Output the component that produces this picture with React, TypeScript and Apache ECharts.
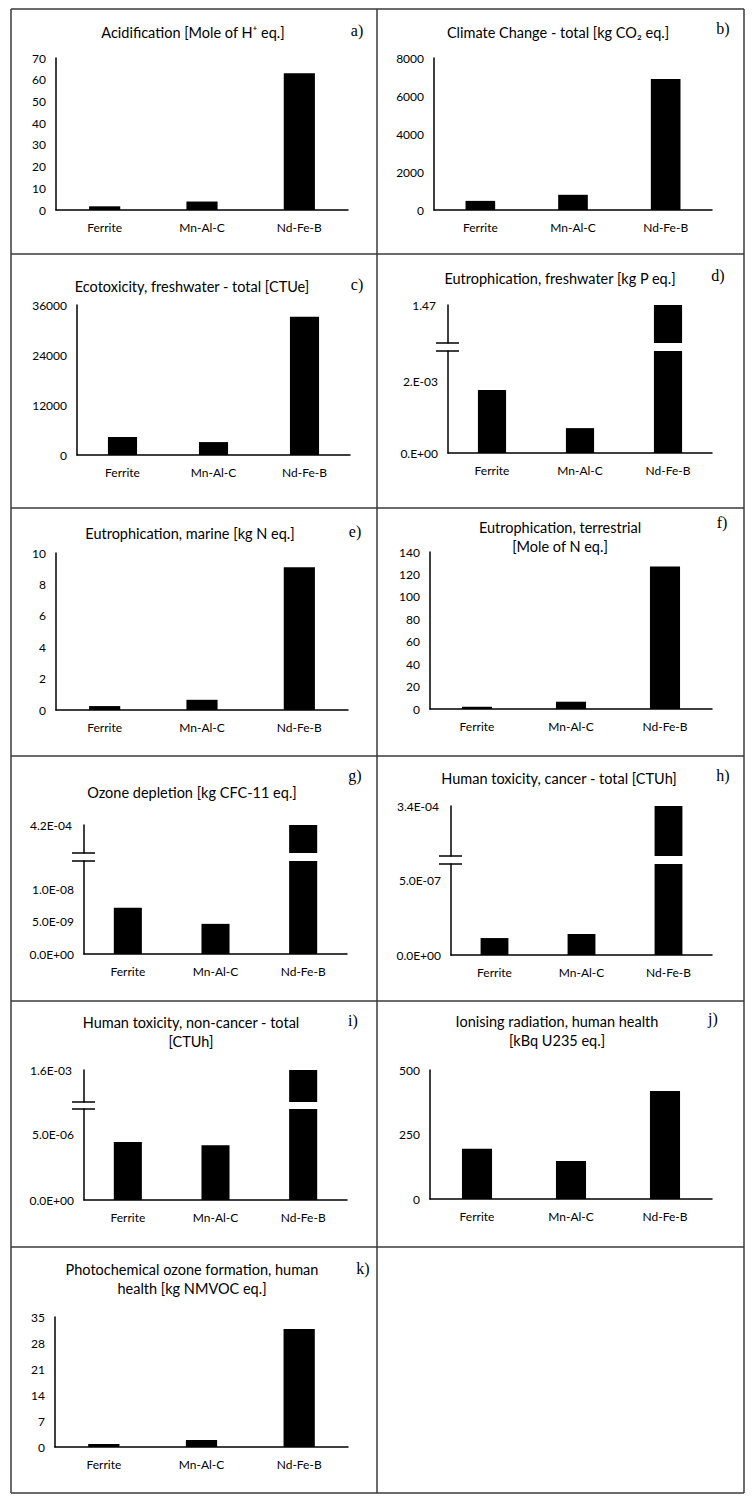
import React, { useEffect, useRef } from "react";
import * as echarts from "echarts";

// ---------- data ----------
const categories = ["Ferrite", "Mn-Al-C", "Nd-Fe-B"];

const acidification = [1.7, 3.9, 63];
const climateChange = [480, 800, 6900];
const ecotoxicity = [4300, 3100, 33200];
const eutroFreshwater = [0.00177, 0.0007, 1.47];
const eutroMarine = [0.25, 0.65, 9.1];
const eutroTerrestrial = [2, 6.5, 127];
const ozoneDepletion = [7.2e-9, 4.7e-9, 4.2e-4];
const humanToxCancer = [1.13e-7, 1.4e-7, 3.4e-4];
const humanToxNonCancer = [4.4e-6, 4.15e-6, 1.6e-3];
const ionisingRadiation = [195, 147, 419];
const photochemOzone = [0.8, 1.9, 31.8];

// tick values / labels of the broken axes
const freshwaterTicks = [0, 0.002];
const freshwaterTickLabels = ["0.E+00", "2.E-03"];
const freshwaterTopLabel = "1.47";
const ozoneTicks = [0, 5e-9, 1e-8];
const ozoneTickLabels = ["0.0E+00", "5.0E-09", "1.0E-08"];
const ozoneTopLabel = "4.2E-04";
const cancerTicks = [0, 5e-7];
const cancerTickLabels = ["0.0E+00", "5.0E-07"];
const cancerTopLabel = "3.4E-04";
const nonCancerTicks = [0, 5e-6];
const nonCancerTickLabels = ["0.0E+00", "5.0E-06"];
const nonCancerTopLabel = "1.6E-03";

// ---------- layout ----------
const FONT = 'Lato, "Open Sans", "DejaVu Sans", sans-serif';
const SERIF = '"Liberation Serif", "DejaVu Serif", serif';

type Brk = {
  upperBottom: number;
  lowerTop: number;
  lowerMax: number;
  ticks: number[];
  labels: string[];
  topLabel: string;
};
type Panel = {
  letter: string;
  title: string[];
  values: number[];
  titleX: number;
  titleY: number;
  letterX: number;
  letterY: number;
  axisX: number;
  right: number;
  top: number;
  bottom: number;
  scale?: { min: number; max: number; interval: number };
  brk?: Brk;
};

const panels: Panel[] = [
  { letter: "a)", title: ["Acidification [Mole of H\u207A eq.]"], values: acidification, titleX: 193, titleY: 32, letterX: 357, letterY: 30, axisX: 56, right: 348, top: 58, bottom: 210, scale: { min: 0, max: 70, interval: 10 } },
  { letter: "b)", title: ["Climate Change - total [kg CO\u2082 eq.]"], values: climateChange, titleX: 558, titleY: 32, letterX: 723, letterY: 28, axisX: 434, right: 712, top: 58, bottom: 210, scale: { min: 0, max: 8000, interval: 2000 } },
  { letter: "c)", title: ["Ecotoxicity, freshwater - total [CTUe]"], values: ecotoxicity, titleX: 192, titleY: 286, letterX: 357, letterY: 284, axisX: 77, right: 350, top: 305, bottom: 455, scale: { min: 0, max: 36000, interval: 12000 } },
  { letter: "d)", title: ["Eutrophication, freshwater [kg P eq.]"], values: eutroFreshwater, titleX: 560, titleY: 278, letterX: 718, letterY: 275, axisX: 448, right: 712, top: 305, bottom: 453, brk: { upperBottom: 343, lowerTop: 351, lowerMax: 2.87e-3, ticks: freshwaterTicks, labels: freshwaterTickLabels, topLabel: freshwaterTopLabel } },
  { letter: "e)", title: ["Eutrophication, marine [kg N eq.]"], values: eutroMarine, titleX: 190, titleY: 533, letterX: 355, letterY: 531, axisX: 56, right: 348, top: 553, bottom: 710, scale: { min: 0, max: 10, interval: 2 } },
  { letter: "f)", title: ["Eutrophication, terrestrial", "[Mole of N eq.]"], values: eutroTerrestrial, titleX: 560, titleY: 527, letterX: 722, letterY: 522, axisX: 430, right: 712, top: 552, bottom: 709, scale: { min: 0, max: 140, interval: 20 } },
  { letter: "g)", title: ["Ozone depletion [kg CFC-11 eq.]"], values: ozoneDepletion, titleX: 192, titleY: 792, letterX: 355, letterY: 775, axisX: 84, right: 347, top: 825, bottom: 954, brk: { upperBottom: 853, lowerTop: 861, lowerMax: 1.45e-8, ticks: ozoneTicks, labels: ozoneTickLabels, topLabel: ozoneTopLabel } },
  { letter: "h)", title: ["Human toxicity, cancer - total [CTUh]"], values: humanToxCancer, titleX: 559, titleY: 778, letterX: 723, letterY: 775, axisX: 451, right: 712, top: 806, bottom: 955, brk: { upperBottom: 856, lowerTop: 864, lowerMax: 6.07e-7, ticks: cancerTicks, labels: cancerTickLabels, topLabel: cancerTopLabel } },
  { letter: "i)", title: ["Human toxicity, non-cancer - total", "[CTUh]"], values: humanToxNonCancer, titleX: 191, titleY: 1022, letterX: 353, letterY: 1020, axisX: 84, right: 347, top: 1070, bottom: 1200, brk: { upperBottom: 1102, lowerTop: 1109, lowerMax: 6.9e-6, ticks: nonCancerTicks, labels: nonCancerTickLabels, topLabel: nonCancerTopLabel } },
  { letter: "j)", title: ["Ionising radiation, human health", "[kBq U235 eq.]"], values: ionisingRadiation, titleX: 557, titleY: 1021, letterX: 713, letterY: 1018, axisX: 430, right: 712, top: 1070, bottom: 1199, scale: { min: 0, max: 500, interval: 250 } },
  { letter: "k)", title: ["Photochemical ozone formation, human", "health [kg NMVOC eq.]"], values: photochemOzone, titleX: 192, titleY: 1269, letterX: 363, letterY: 1268, axisX: 55, right: 348, top: 1317, bottom: 1447, scale: { min: 0, max: 35, interval: 7 } },
];

const borderXs = [11, 377, 744];
const borderYs = [9, 254, 508, 756, 1001, 1247, 1493];

function buildOption() {
  const grids: any[] = [];
  const xAxes: any[] = [];
  const yAxes: any[] = [];
  const series: any[] = [];
  const graphics: any[] = [];
  const axisLine = { show: true, lineStyle: { color: "#000", width: 1.5 } };
  const labelStyle = { color: "#000", fontSize: 12, fontFamily: FONT };

  const addGrid = (p: Panel, top: number, bottom: number, showX: boolean, yAxis: any) => {
    const gi = grids.length;
    grids.push({ left: p.axisX, top, width: p.right - p.axisX, height: bottom - top, containLabel: false, outerBoundsMode: "none" });
    xAxes.push({
      gridIndex: gi,
      type: "category",
      data: categories,
      show: showX,
      axisLine,
      axisTick: { show: false },
      axisLabel: { ...labelStyle, margin: 11, interval: 0 },
      splitLine: { show: false },
    });
    yAxes.push({ gridIndex: gi, type: "value", axisLine, axisTick: { show: false }, splitLine: { show: false }, ...yAxis });
    series.push({
      type: "bar",
      xAxisIndex: gi,
      yAxisIndex: gi,
      data: p.values,
      barWidth: "32%",
      clip: true,
      itemStyle: { color: "#000" },
    });
  };

  panels.forEach((p) => {
    if (!p.brk) {
      addGrid(p, p.top, p.bottom, true, {
        min: p.scale!.min,
        max: p.scale!.max,
        interval: p.scale!.interval,
        axisLabel: { ...labelStyle, margin: 10, formatter: (v: number) => String(v) },
      });
    } else {
      const b = p.brk;
      const top = Math.max(...p.values);
      addGrid(p, p.top, b.upperBottom, false, {
        min: top * 0.5,
        max: top,
        axisLabel: { ...labelStyle, margin: 12, customValues: [top], formatter: () => b.topLabel },
      });
      addGrid(p, b.lowerTop, p.bottom, true, {
        min: 0,
        max: b.lowerMax,
        axisLabel: {
          ...labelStyle,
          margin: 10,
          customValues: b.ticks,
          formatter: (v: number) => {
            let best = 0;
            b.ticks.forEach((t, i) => {
              if (Math.abs(t - v) < Math.abs(b.ticks[best] - v)) best = i;
            });
            return b.labels[best];
          },
        },
      });
      [b.upperBottom, b.lowerTop].forEach((y) => {
        graphics.push({
          type: "line",
          shape: { x1: p.axisX - 12, y1: y, x2: p.axisX + 11, y2: y },
          style: { stroke: "#000", lineWidth: 1.5 },
        });
      });
    }
    p.title.forEach((t, i) => {
      graphics.push({
        type: "text",
        x: p.titleX,
        y: p.titleY + i * 19,
        style: { text: t, fill: "#000", fontSize: 14.5, fontFamily: FONT, align: "center", textAlign: "center", verticalAlign: "middle", textVerticalAlign: "middle" },
      });
    });
    graphics.push({
      type: "text",
      x: p.letterX,
      y: p.letterY,
      style: { text: p.letter, fill: "#000", fontSize: 16, fontFamily: SERIF, align: "center", textAlign: "center", verticalAlign: "middle", textVerticalAlign: "middle" },
    });
  });

  borderXs.forEach((x) =>
    graphics.push({ type: "line", shape: { x1: x, y1: borderYs[0], x2: x, y2: borderYs[borderYs.length - 1] }, style: { stroke: "#3a3a3a", lineWidth: 1.5 } })
  );
  borderYs.forEach((y) =>
    graphics.push({ type: "line", shape: { x1: borderXs[0], y1: y, x2: borderXs[borderXs.length - 1], y2: y }, style: { stroke: "#3a3a3a", lineWidth: 1.5 } })
  );

  return {
    animation: false,
    backgroundColor: "#fff",
    grid: grids,
    xAxis: xAxes,
    yAxis: yAxes,
    series,
    graphic: { elements: graphics },
  };
}

export default function App() {
  const ref = useRef<HTMLDivElement>(null);
  useEffect(() => {
    if (!ref.current) return;
    const chart = echarts.init(ref.current, undefined, { renderer: "svg" });
    chart.setOption(buildOption() as any);
    return () => chart.dispose();
  }, []);
  return (
    <div
      ref={ref}
      style={{ position: "absolute", left: 0, top: 0, width: 755, height: 1506, background: "#fff" }}
    />
  );
}
